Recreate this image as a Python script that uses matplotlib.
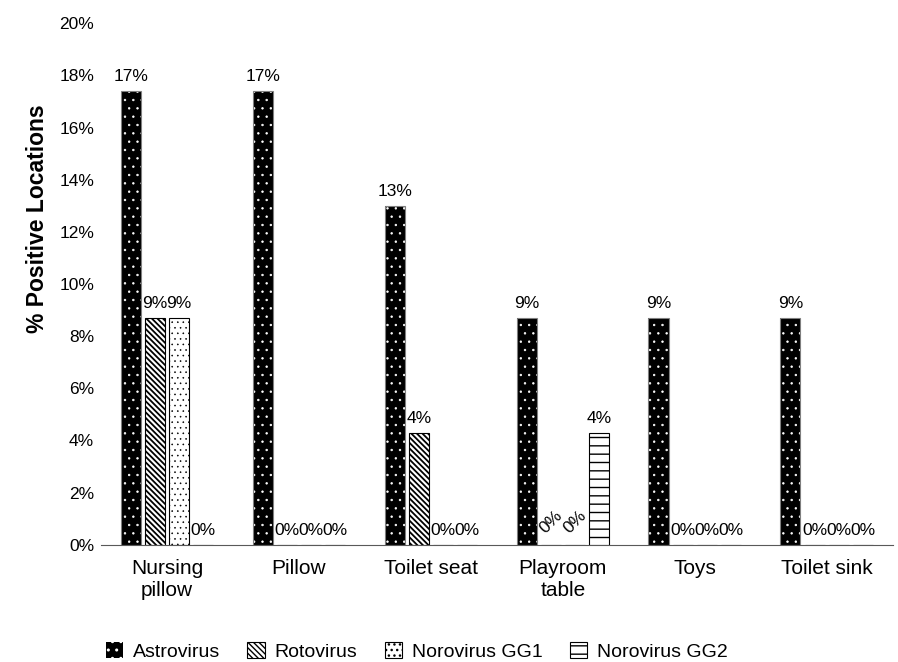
import matplotlib.pyplot as plt
import numpy as np

plt.rcParams['font.family'] = ['Liberation Sans', 'DejaVu Sans']

locations = ['Nursing\npillow', 'Pillow', 'Toilet seat', 'Playroom\ntable', 'Toys', 'Toilet sink']
viruses = ['Astrovirus', 'Rotovirus', 'Norovirus GG1', 'Norovirus GG2']

# percent of positive sampling locations per virus
astrovirus = [17.4, 17.4, 13.0, 8.7, 8.7, 8.7]
rotovirus = [8.7, 0.0, 4.3, 0.0, 0.0, 0.0]
norovirus_gg1 = [8.7, 0.0, 0.0, 0.0, 0.0, 0.0]
norovirus_gg2 = [0.0, 0.0, 0.0, 4.3, 0.0, 0.0]

series = [astrovirus, rotovirus, norovirus_gg1, norovirus_gg2]
hatches = ['..', '\\' * 6, '...', '--']
hatch_lw = [0.5, 1.3, 0.4, 1.0]

fig = plt.figure(figsize=(8.98, 6.62), dpi=100)
ax = fig.add_axes([0.1125, 0.177, 0.8815, 0.788])

x = np.arange(len(locations))
step = 0.183
width = 0.152

for i, (name, vals, h) in enumerate(zip(viruses, series, hatches)):
    pos = x + (i - 1.5) * step
    with plt.rc_context({'hatch.linewidth': hatch_lw[i]}):
        if i == 0:
            # black bars with small white dots, outline drawn separately
            ax.bar(pos, vals, width, color='black', edgecolor='white', hatch=h,
                   linewidth=0, label=name)
        else:
            ax.bar(pos, vals, width, color='white', edgecolor='black', hatch=h,
                   linewidth=0.8, label=name)
    if i == 0:
        ax.bar(pos, vals, width, fill=False, edgecolor='#7f7f7f', linewidth=0.8)
    for j, (px, v) in enumerate(zip(pos, vals)):
        label = f'{v:.0f}%'
        if v == 0 and j == 3:
            ax.text(px, 0.35, label, ha='center', va='bottom', fontsize=12.5, rotation=45)
        else:
            ax.text(px, v + 0.25, label, ha='center', va='bottom', fontsize=12.5)

ax.set_xlim(-0.5, len(locations) - 0.5)
ax.set_ylim(0, 20)
ax.set_yticks(np.arange(0, 21, 2))
ax.set_yticklabels([f'{t}%' for t in range(0, 21, 2)], fontsize=12.5)
ax.set_xticks(x)
ax.set_xticklabels(locations, fontsize=15)
ax.tick_params(axis='x', length=0, pad=10)
ax.tick_params(axis='y', length=0, pad=5)
for side in ['top', 'right', 'left']:
    ax.spines[side].set_visible(False)
ax.spines['bottom'].set_color('#595959')

fig.text(0.042, 0.669, '% Positive Locations', rotation=90, ha='center', va='center',
         fontsize=16.5, fontweight='bold')

fig.legend(loc='center', bbox_to_anchor=(0.464, 0.016), ncol=4, frameon=False,
           fontsize=14, handlelength=0.9, handleheight=0.9, handletextpad=0.5,
           columnspacing=1.4)

plt.savefig('out.png', dpi=100)
plt.close()
